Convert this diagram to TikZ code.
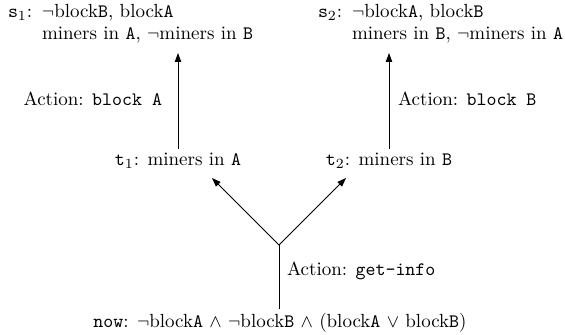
\documentclass[tikz,border=0pt]{standalone}
\usetikzlibrary{arrows.meta}
\begin{document}
\begin{tikzpicture}[x=0.5pt,y=-0.5pt,
  arr/.style={-{Triangle[length=4.5pt,width=3.2pt]}, line width=0.4pt},
  lbl/.style={inner sep=0pt, outer sep=0pt, font=\fontsize{9.5pt}{11pt}\selectfont}]
\useasboundingbox (0,0) rectangle (565,335);
% states at the top
\node[lbl,anchor=base west] (s1a) at (8,18) {\makebox[17pt][l]{\texttt{s}$_1$:}$\neg$block\texttt{B}, block\texttt{A}};
\node[lbl,anchor=base west] (s1b) at (42,40) {miners in \texttt{A}, $\neg$miners in \texttt{B}};
\node[lbl,anchor=base west] (s2a) at (318,18) {\makebox[17pt][l]{\texttt{s}$_2$:}$\neg$block\texttt{A}, block\texttt{B}};
\node[lbl,anchor=base west] (s2b) at (352,40) {miners in \texttt{B}, $\neg$miners in \texttt{A}};
% middle states
\node[lbl,anchor=base] (t1) at (178,166) {\texttt{t}$_1$: miners in \texttt{A}};
\node[lbl,anchor=base] (t2) at (389,166) {\texttt{t}$_2$: miners in \texttt{B}};
% now
\node[lbl,anchor=base] (now) at (280,327) {\texttt{now}: $\neg$block\texttt{A} $\wedge$ $\neg$block\texttt{B} $\wedge$ (block\texttt{A} $\vee$ block\texttt{B})};
% connector end points
\coordinate (s1tip) at (178,53);
\coordinate (s2tip) at (389,53);
\coordinate (t1tip) at (212,178);
\coordinate (t2tip) at (346,178);
\coordinate (j) at (279,245);
% connectors
\draw[arr] ([yshift=2.5pt]t1.north) -- (s1tip);
\draw[arr] ([yshift=2.5pt]t2.north) -- (s2tip);
\draw[arr] (j) -- (t1tip);
\draw[arr] (j) -- (t2tip);
\draw[line width=0.4pt] ([yshift=2pt]now.north -| j) -- (j);
% action labels
\node[lbl,anchor=base east] (la) at (162,106) {Action: \texttt{block A}};
\node[lbl,anchor=base west] (lb) at (398,106) {Action: \texttt{block B}};
\node[lbl,anchor=base west] (lc) at (287,276) {Action: \texttt{get-info}};
\end{tikzpicture}
\end{document}
